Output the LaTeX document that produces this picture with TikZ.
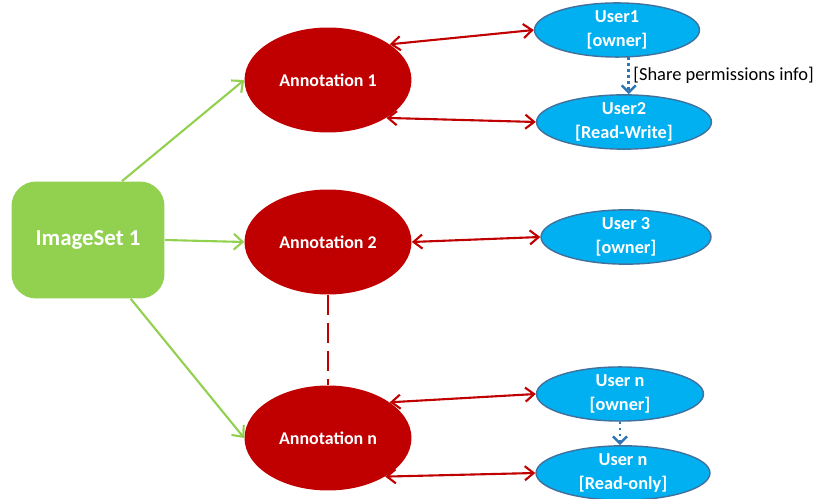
\documentclass[tikz,border=0pt]{standalone}
\usepackage{fontspec}
\setmainfont{Carlito}
\usetikzlibrary{shapes.geometric,arrows.meta}
\definecolor{vertset}{HTML}{92D050}
\definecolor{rougeannot}{HTML}{C00000}
\definecolor{bleuuser}{HTML}{00B0F0}
\definecolor{bordbleu}{HTML}{41719C}
\definecolor{bleupoint}{HTML}{2E75B6}
\tikzset{
    setbox/.style={draw=none, fill=vertset, rounded corners=14pt, minimum width=3.06cm, minimum height=2.34cm, text=white, font=\fontsize{13}{15}\selectfont\bfseries},
    annot/.style={ellipse, fill=rougeannot, minimum width=3.34cm, minimum height=2.1cm, inner sep=0pt, text=white, font=\fontsize{10.2}{12}\selectfont\bfseries},
    user/.style={ellipse, draw=bordbleu, line width=0.8pt, fill=bleuuser, minimum height=1.04cm, inner sep=0pt, align=center, text=white, font=\fontsize{10.4}{13.5}\selectfont\bfseries},
    lienvert/.style={draw=vertset, line width=1.2pt, -{Straight Barb[length=5pt,width=9pt]}},
    lienrouge/.style={draw=rougeannot, line width=1.2pt, {Straight Barb[length=5pt,width=8pt]}-{Straight Barb[length=5pt,width=8pt]}},
    partage/.style={draw=bleupoint, line width=1.4pt, dotted, -{Straight Barb[length=4pt,width=8pt]}}
}
\begin{document}
\begin{tikzpicture}[x=0.02cm, y=-0.02cm]
    \useasboundingbox (0,0) rectangle (816,499);
    % Jeu d'images
    \node[setbox] (img) at (88,240) {ImageSet 1};
    % Annotations
    \node[annot] (a1) at (328,80) {Annotation 1};
    \node[annot] (a2) at (328,242) {Annotation 2};
    \node[annot] (an) at (328,438) {Annotation n};
    % Utilisateurs
    \node[user, minimum width=3.3cm] (u1) at (617,30) {User1\\{[owner]}};
    \node[user, minimum width=3.5cm] (u2) at (624,122) {User2\\{[Read-Write]}};
    \node[user, minimum width=3.4cm] (u3) at (626,237) {User 3\\{[owner]}};
    \node[user, minimum width=3.34cm] (un) at (620,394) {User n\\{[owner]}};
    \node[user, minimum width=3.48cm] (ur) at (623,473) {User n\\{[Read-only]}};
    % Liens jeu d'images -> annotations
    \draw[lienvert] (img.60) -- (a1.west);
    \draw[lienvert] (img.east) -- (a2.west);
    \draw[lienvert] (img.-54) -- (an.west);
    % Liens annotations <-> utilisateurs
    \draw[lienrouge] (a1.30) -- (u1.west);
    \draw[lienrouge] (a1.-33) -- (u2.west);
    \draw[lienrouge] (a2.east) -- (u3.west);
    \draw[lienrouge] (an.30) -- (un.west);
    \draw[lienrouge] (an.-34) -- (ur.west);
    % Annotations intermediaires
    \draw[rougeannot, line width=1.2pt, dash pattern=on 0.4cm off 0.16cm] (a2.south) -- (an.north);
    % Partage des droits
    \draw[partage] (u1.-67) -- (u1.-67 |- u2.north)
        node[midway, right, inner sep=2pt, font=\fontsize{10.5}{12}\selectfont] {[Share permissions info]};
    \draw[partage] (un.south) -- (un.south |- ur.north);
\end{tikzpicture}
\end{document}
